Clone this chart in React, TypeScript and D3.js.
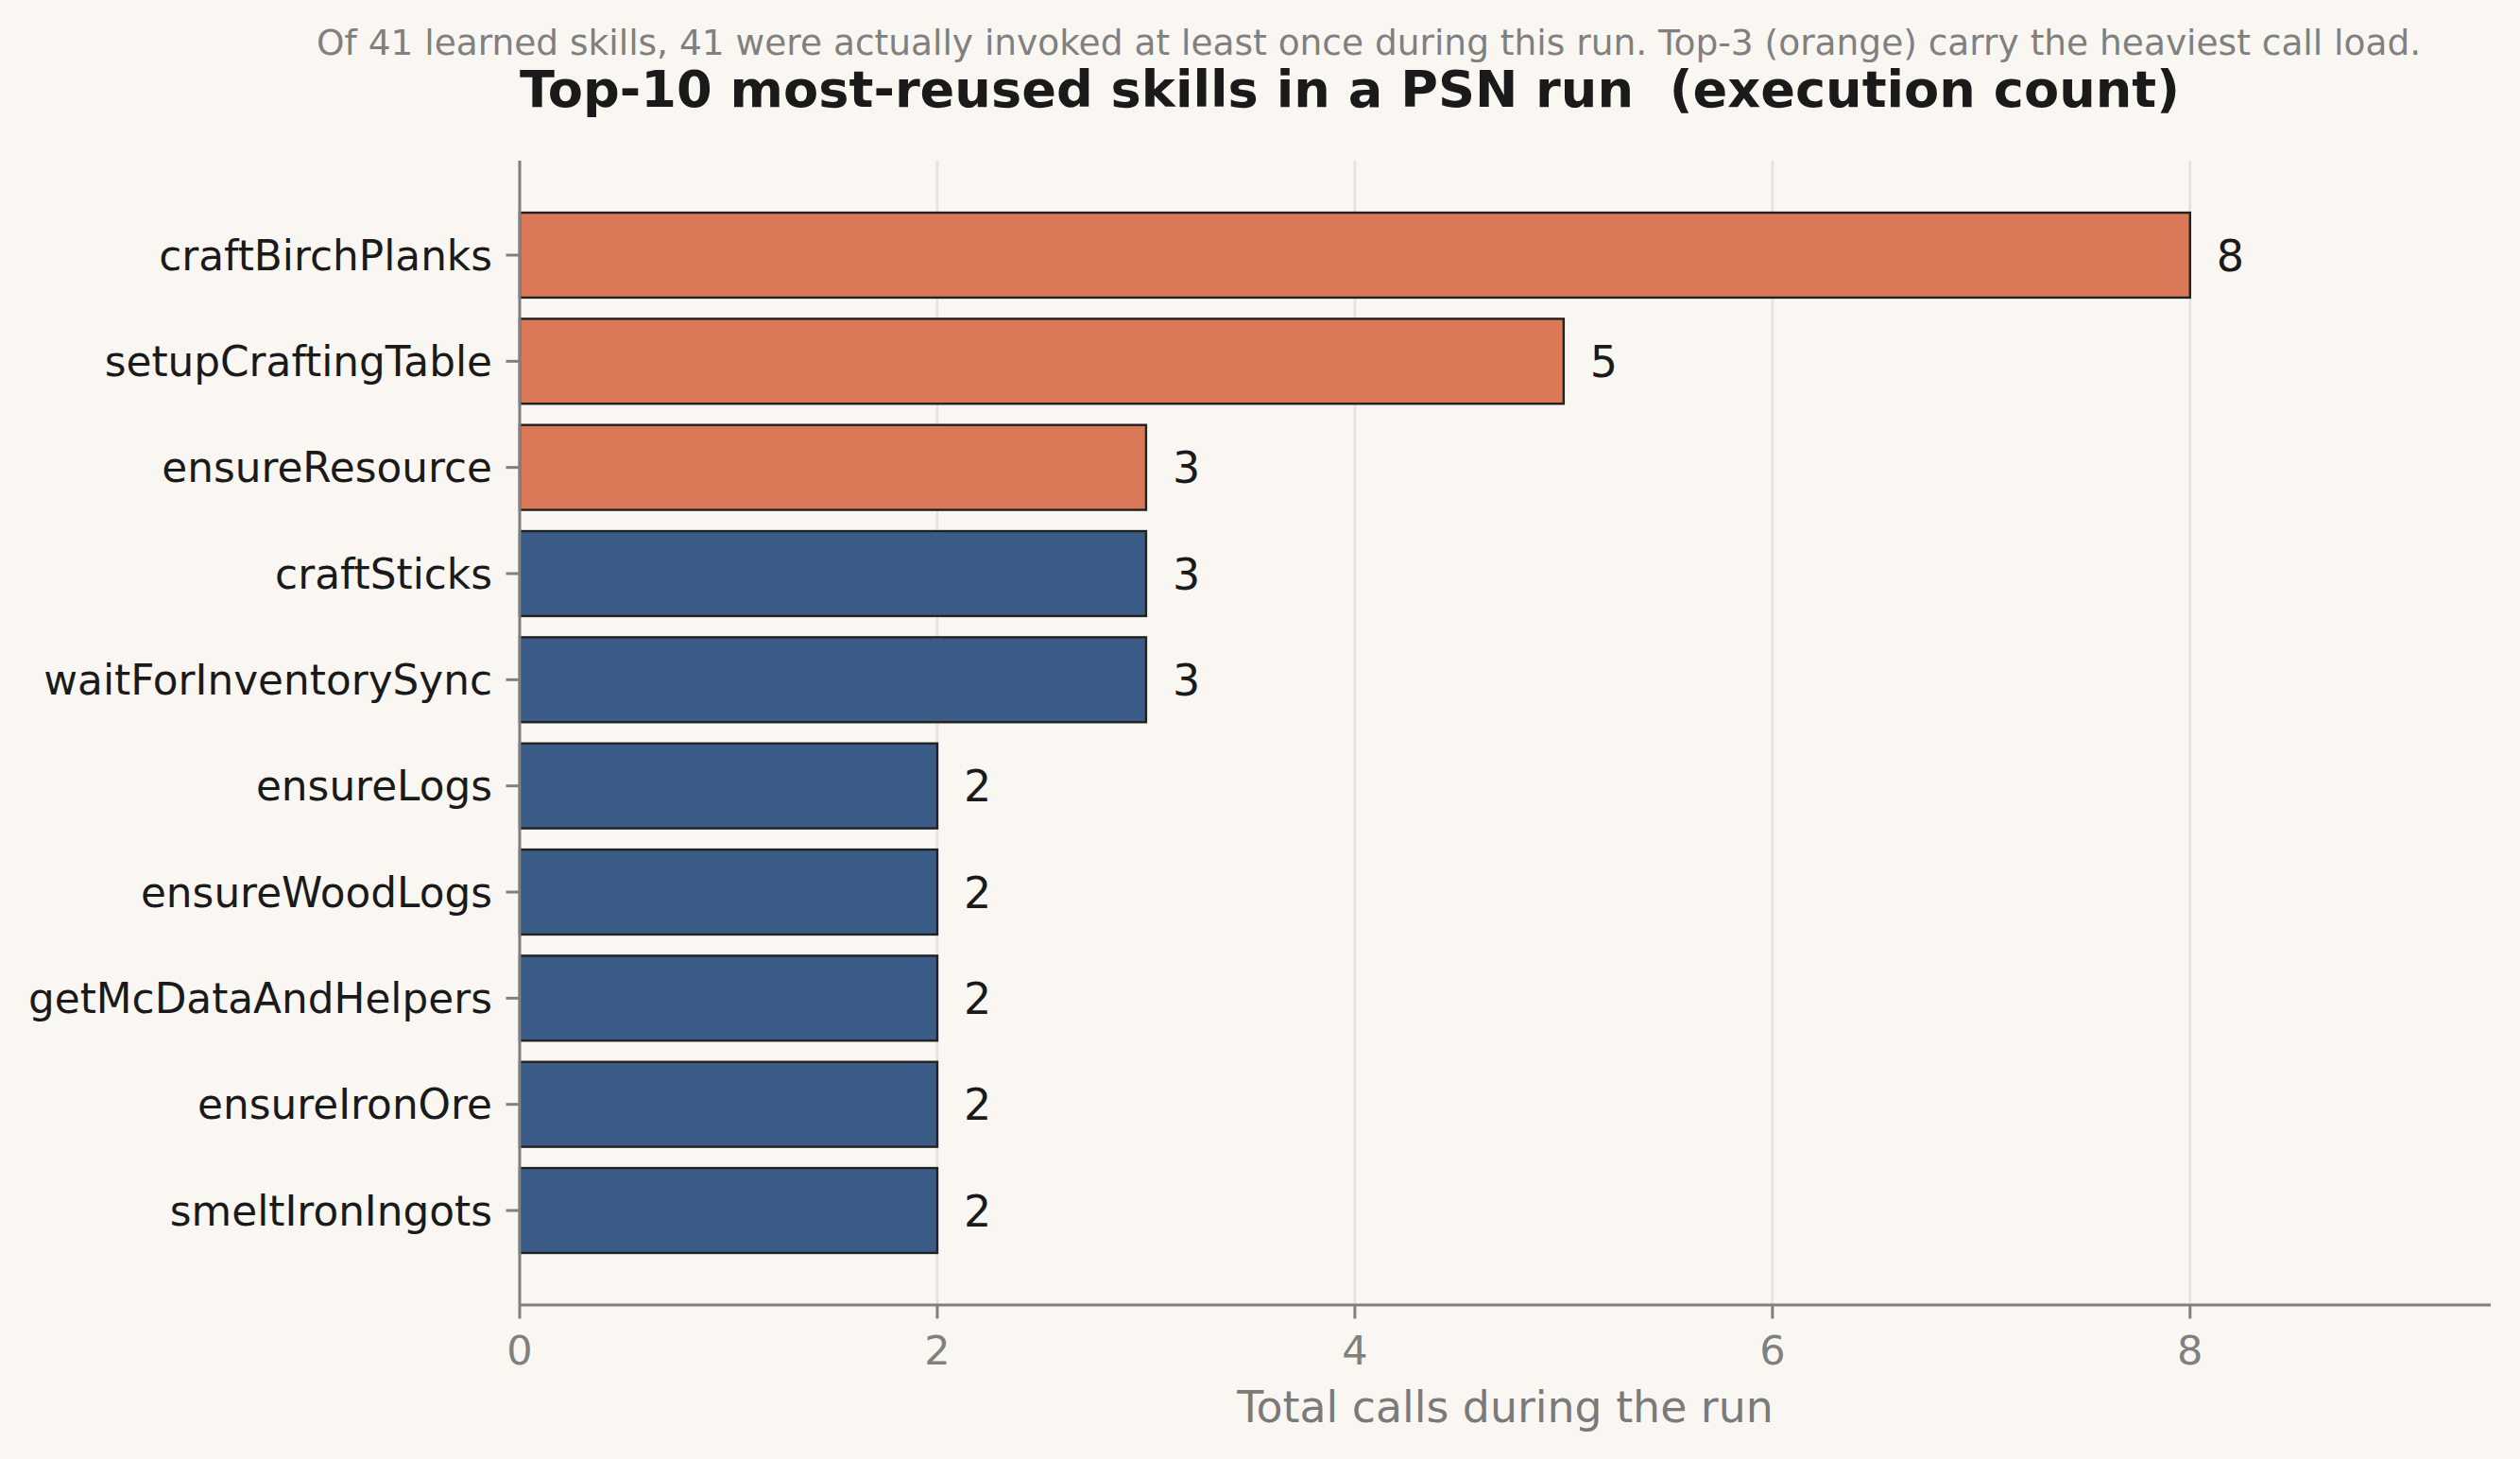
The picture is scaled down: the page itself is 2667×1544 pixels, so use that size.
import React, { useMemo } from 'react';
import * as d3 from 'd3';

// Data
const skills = [
  'craftBirchPlanks',
  'setupCraftingTable',
  'ensureResource',
  'craftSticks',
  'waitForInventorySync',
  'ensureLogs',
  'ensureWoodLogs',
  'getMcDataAndHelpers',
  'ensureIronOre',
  'smeltIronIngots',
];
const calls = [8, 5, 3, 3, 3, 2, 2, 2, 2, 2];
const xTicks = [0, 2, 4, 6, 8];
const topN = 3;

const TITLE = 'Top-10 most-reused skills in a PSN run  (execution count)';
const SUBTITLE =
  'Of 41 learned skills, 41 were actually invoked at least once during this run. Top-3 (orange) carry the heaviest call load.';
const X_LABEL = 'Total calls during the run';

const ORANGE = '#da7858';
const BLUE = '#3b5c87';
const BG = '#faf7f2';

const App: React.FC = () => {
  const width = 2667;
  const height = 1544;
  // axes box, in pixels
  const left = 550;
  const right = 2636;
  const top = 170;
  const bottom = 1381;

  const chart = useMemo(() => {
    const xMax = d3.max(calls)! * 1.18;
    const x = d3.scaleLinear().domain([0, xMax]).range([left, right]);

    // matplotlib-style barh: bars at 0..n-1, height 0.8, 5% margins, inverted
    const n = skills.length;
    const lo = -0.4;
    const hi = n - 1 + 0.4;
    const pad = (hi - lo) * 0.05;
    const y = d3.scaleLinear().domain([lo - pad, hi + pad]).range([top, bottom]);
    const barH = y(0.8) - y(0);

    const bars = skills.map((name, i) => ({
      name,
      value: calls[i],
      x0: x(0),
      x1: x(calls[i]),
      cy: y(i),
      h: barH,
      color: i < topN ? ORANGE : BLUE,
    }));
    return { x, y, bars };
  }, []);

  const { x, bars } = chart;

  return (
    <div style={{ position: 'absolute', left: 0, top: 0, width, height }}>
      <svg
        width={width}
        height={height}
        viewBox={`0 0 ${width} ${height}`}
        style={{ display: 'block', fontFamily: '"DejaVu Sans", sans-serif' }}
      >
        <rect width={width} height={height} fill={BG} />

        {/* grid */}
        {xTicks.map((t) => (
          <line
            key={`g${t}`}
            x1={x(t)}
            x2={x(t)}
            y1={top}
            y2={bottom}
            stroke="#e6e2dc"
            strokeWidth={2.8}
          />
        ))}

        {/* bars */}
        {bars.map((b) => (
          <g key={b.name}>
            <rect
              x={b.x0}
              y={b.cy - b.h / 2}
              width={b.x1 - b.x0}
              height={b.h}
              fill={b.color}
              stroke="#222222"
              strokeWidth={2.4}
            />
            <text
              x={b.x1 + 28}
              y={b.cy}
              dy="0.36em"
              fontSize={46}
              fill="#1a1a1a"
            >
              {b.value}
            </text>
            <line x1={left - 14.5} x2={left} y1={b.cy} y2={b.cy} stroke="#808080" strokeWidth={3} />
            <text
              x={left - 29}
              y={b.cy}
              dy="0.36em"
              textAnchor="end"
              fontSize={43.75}
              fill="#1a1a1a"
            >
              {b.name}
            </text>
          </g>
        ))}

        {/* spines */}
        <line x1={left} x2={left} y1={top} y2={bottom} stroke="#808080" strokeWidth={3} />
        <line x1={left} x2={right} y1={bottom} y2={bottom} stroke="#808080" strokeWidth={3} />

        {/* x ticks */}
        {xTicks.map((t) => (
          <g key={`t${t}`}>
            <line x1={x(t)} x2={x(t)} y1={bottom} y2={bottom + 14.5} stroke="#808080" strokeWidth={3} />
            <text x={x(t)} y={1444} textAnchor="middle" fontSize={43} fill="#808080">
              {t}
            </text>
          </g>
        ))}

        <text x={(left + right) / 2} y={1505} textAnchor="middle" fontSize={45.8} fill="#7a7a7a">
          {X_LABEL}
        </text>

        <text
          x={left}
          y={113}
          fontSize={54.2}
          fontWeight="bold"
          fill="#1a1a1a"
          style={{ whiteSpace: 'pre' }}
        >
          {TITLE}
        </text>
        <text x={335} y={58} fontSize={37.5} fill="#808080">
          {SUBTITLE}
        </text>
      </svg>
    </div>
  );
};

export default App;
